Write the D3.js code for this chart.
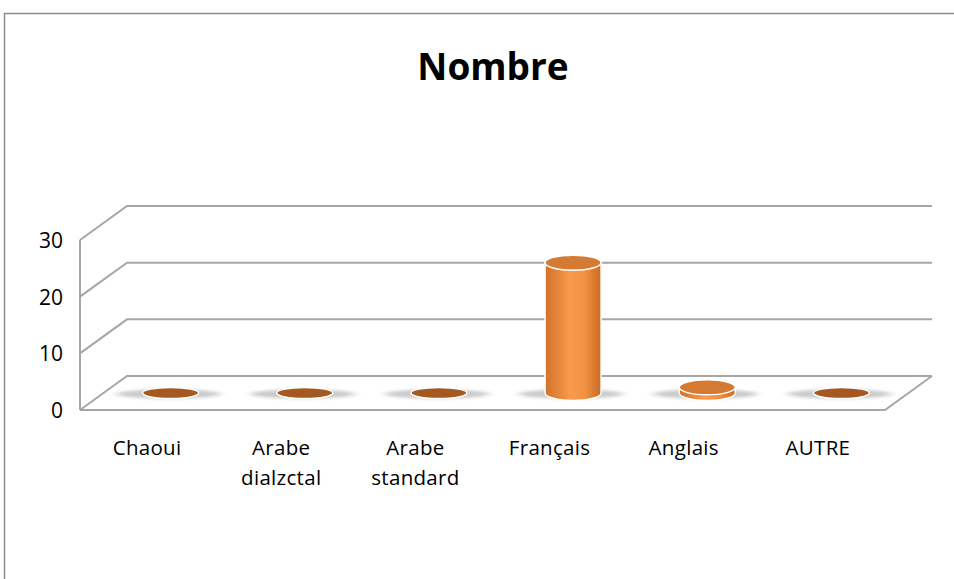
<!DOCTYPE html>
<html>
<head>
<meta charset="utf-8">
<script src="https://cdn.jsdelivr.net/npm/d3@7"></script>
<style>
  body { margin: 0; background: #fff; }
  svg { display: block; font-family: "Open Sans", Lato, sans-serif; }
</style>
</head>
<body>
<div id="chart"></div>
<script>
// data
const categories = ['Chaoui', 'Arabe\ndialzctal', 'Arabe\nstandard', 'Français', 'Anglais', 'AUTRE'];
const values = [0, 0, 0, 23, 1, 0];
const yTicks = [0, 10, 20, 30];
const title = 'Nombre';

const width = 954, height = 579;
const depth = { dx: 47, dy: -34 }; // 3d depth offset

const svg = d3.select('#chart').append('svg')
    .attr('width', width)
    .attr('height', height);

const defs = svg.append('defs');

const grad = defs.append('linearGradient')
    .attr('id', 'cyl')
    .attr('x1', '0%').attr('x2', '100%').attr('y1', '0%').attr('y2', '0%');
grad.append('stop').attr('offset', '0%').attr('stop-color', '#d0722a');
grad.append('stop').attr('offset', '45%').attr('stop-color', '#f99b4b');
grad.append('stop').attr('offset', '70%').attr('stop-color', '#f29243');
grad.append('stop').attr('offset', '100%').attr('stop-color', '#c96b24');

const blur = defs.append('filter').attr('id', 'shadow')
    .attr('x', '-50%').attr('y', '-100%').attr('width', '200%').attr('height', '300%');
blur.append('feGaussianBlur').attr('stdDeviation', '4 1.5');

// frame
svg.append('rect')
    .attr('x', 4.5).attr('y', 13.5)
    .attr('width', 980).attr('height', 600)
    .attr('fill', 'none')
    .attr('stroke', '#8c8c8c')
    .attr('stroke-width', 1.5);

svg.append('text')
    .attr('x', 493).attr('y', 80)
    .attr('text-anchor', 'middle')
    .attr('font-size', 37)
    .attr('font-weight', 'bold')
    .attr('fill', '#000')
    .text(title);

const x = d3.scaleBand().domain(categories).range([80, 885]);
const y = d3.scaleLinear().domain([0, 30]).range([410, 240]);

const grid = svg.append('g')
    .attr('fill', 'none')
    .attr('stroke', '#a6a6a6')
    .attr('stroke-width', 2);

// side wall front edge
grid.append('line')
    .attr('x1', 80).attr('x2', 80)
    .attr('y1', y(30)).attr('y2', y(0));

// gridlines on side and back walls
yTicks.forEach(t => {
    grid.append('polyline')
        .attr('points', [
            [80, y(t)],
            [80 + depth.dx, y(t) + depth.dy],
            [885 + depth.dx, y(t) + depth.dy]
        ].map(p => p.join(',')).join(' '));
});

// floor
grid.append('polyline')
    .attr('points', [
        [80, y(0)],
        [885, y(0)],
        [885 + depth.dx, y(0) + depth.dy]
    ].map(p => p.join(',')).join(' '));

// tick labels
svg.append('g').selectAll('text')
    .data(yTicks)
    .enter()
    .append('text')
    .attr('x', 63)
    .attr('y', d => y(d) + 8)
    .attr('text-anchor', 'end')
    .attr('font-size', 21)
    .attr('fill', '#000')
    .text(d => d);

// category labels
const labels = svg.append('g').selectAll('text')
    .data(categories)
    .enter()
    .append('text')
    .attr('x', d => x(d) + x.bandwidth() / 2)
    .attr('y', 455)
    .attr('text-anchor', 'middle')
    .attr('font-size', 20.5)
    .attr('letter-spacing', 0.3)
    .attr('fill', '#000');
labels.selectAll('tspan')
    .data(d => d.split('\n'))
    .enter()
    .append('tspan')
    .attr('x', function () { return d3.select(this.parentNode).attr('x'); })
    .attr('dy', (d, i) => i === 0 ? 0 : 30)
    .text(d => d);

// cylinders
const rx = 28, ry = 7.5;
const bars = svg.append('g').selectAll('g')
    .data(categories.map((c, i) => ({ c, v: values[i] })))
    .enter()
    .append('g');

const cx = d => x(d.c) + x.bandwidth() / 2 + depth.dx / 2;
const baseY = () => y(0) + depth.dy / 2;
const topY = d => y(d.v) + depth.dy / 2;

bars.append('ellipse')
    .attr('cx', d => cx(d) - 2)
    .attr('cy', d => baseY(d) + 1)
    .attr('rx', rx + 24)
    .attr('ry', 4.5)
    .attr('fill', '#a0a0a0')
    .attr('opacity', 0.55)
    .attr('filter', 'url(#shadow)');

bars.filter(d => d.v > 0)
    .append('path')
    .attr('d', d => {
        const l = cx(d) - rx, r = cx(d) + rx;
        return `M${l},${topY(d)} L${l},${baseY(d)} A${rx},${ry} 0 0 0 ${r},${baseY(d)} L${r},${topY(d)} Z`;
    })
    .attr('fill', 'url(#cyl)')
    .attr('stroke', '#fff')
    .attr('stroke-width', 1.5);

bars.append('ellipse')
    .attr('cx', cx)
    .attr('cy', topY)
    .attr('rx', rx)
    .attr('ry', d => d.v > 0 ? ry : 5.5)
    .attr('fill', d => d.v > 0 ? '#d47a32' : '#a3591f')
    .attr('stroke', '#fff')
    .attr('stroke-width', 1.5);
</script>
</body>
</html>
